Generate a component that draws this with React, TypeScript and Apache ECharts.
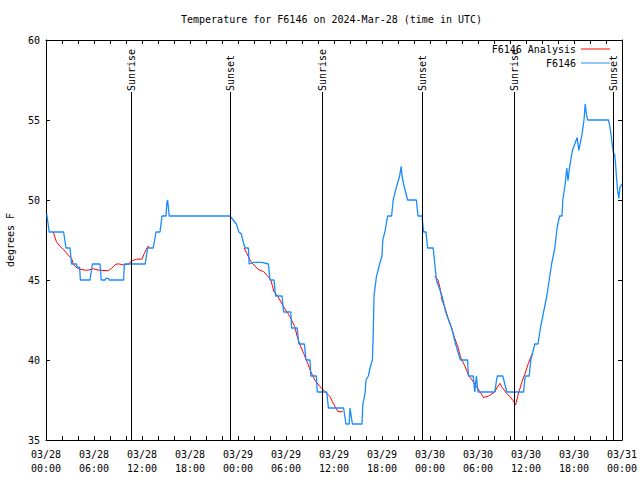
import React, { useEffect, useRef } from "react";
import * as echarts from "echarts";

const titleText = "Temperature for F6146 on 2024-Mar-28 (time in UTC)";
const yAxisTitle = "degrees F";
const obsName = "F6146";
const anaName = "F6146 Analysis";

// hours since 03/28 00:00 UTC
const obsHours = [
  0.1, 0.4, 2.2, 2.5, 3.0, 3.2, 3.8, 3.9, 4.2, 4.3, 5.5, 5.8, 6.75, 6.9, 7.4, 7.5, 7.8, 7.9, 9.7, 9.8,
  12.4, 12.7, 13.4, 13.75, 14.25, 14.5, 15.0, 15.1, 15.2, 15.4, 23.0, 23.8, 24.1, 24.4, 24.75, 24.9,
  25.3, 25.4, 26.0, 27.0, 27.8, 28.0, 28.5, 28.7, 29.5, 29.7, 30.6, 30.7, 31.4, 31.6, 32.3, 32.5,
  33.0, 33.1, 33.8, 33.9, 35.1, 35.3, 37.2, 37.5, 37.9, 38.0, 38.3, 39.5, 39.6, 39.9, 40.0, 40.3,
  40.5, 40.8, 40.9, 41.0, 41.3, 41.7, 42.0, 42.1, 42.4, 42.7, 43.2, 43.4, 43.8, 44.2, 44.4, 44.5,
  44.7, 45.2, 46.3, 46.5, 47.0, 47.2, 47.5, 47.7, 48.4, 48.6, 48.8, 49.5, 49.96, 50.7, 51.2, 51.8,
  52.7, 52.8, 53.4, 53.6, 53.8, 54.0, 56.1, 56.4, 57.1, 57.6, 59.7, 59.9, 60.4, 60.6, 61.1, 61.5,
  61.8, 62.2, 62.6, 62.9, 63.2, 63.6, 63.9, 64.2, 64.5, 64.6, 64.9, 65.1, 65.25, 65.4, 65.8, 66.1,
  66.4, 66.6, 67.0, 67.25, 67.4, 67.55, 67.7, 70.3, 70.4, 70.6, 70.9, 71.1, 71.2, 71.3, 71.45, 71.6,
  71.75, 72.0,
];
const obsTemps = [
  49.1, 48, 48, 47, 47, 46, 46, 45.8, 45.8, 45, 45, 46, 46, 45, 45, 45.1, 45.1, 45, 45, 46,
  46, 47, 47, 48, 48, 49, 49, 49.8, 50, 49, 49, 48.5, 48, 47.9, 47.2, 47,
  47, 46, 46.1, 46.1, 46, 45, 45, 44, 44, 43, 43, 42, 42, 41, 41, 40,
  40, 39, 39, 38, 38, 37, 37, 36, 36, 37, 36, 36, 37.2, 38, 38.75, 39,
  39.5, 40, 41.5, 44, 45.2, 46, 46.5, 47.5, 48.1, 49, 49, 50, 50.8, 51.5, 52.1, 51.5,
  51, 50, 50, 49, 49, 48, 48, 47, 47, 46, 45, 44, 43, 42, 41, 40,
  40, 39, 39, 38, 39, 38, 38, 39, 39, 38, 38, 39, 39, 40, 41, 41,
  42, 43, 44, 45, 46, 47, 48.3, 49, 49, 50, 51, 52, 51.2, 51.9, 53.1, 53.5,
  53.9, 53.1, 54.1, 55, 56, 55.4, 55, 55, 54.8, 54.2, 53, 52.8, 52.2, 51.5, 50.6, 50.1,
  50.8, 51,
];

// analysis: null marks a gap between runs
const anaHours = [
  0.9, 1.3, 1.75, 2.2, 2.8, 3.2, 3.4, 3.75, 4.25, 5.1, 5.9, 6.75, 7.8, 8.2, 8.75, 9.2, 9.7, 10.3,
  10.7, 11.3, 12.0, 12.3, 12.7, 12.9, 18.0,
  24.75, 25.1, 25.5, 25.8, 26.5, 27.2, 27.8, 28.1, 28.5, 29.0, 29.7, 30.1, 30.5, 31.1, 31.4, 31.75,
  32.2, 32.7, 33.1, 33.6, 34.25, 34.9, 35.5, 35.9, 36.5, 37.1, 42.0,
  48.6, 49.0, 49.3, 49.5, 49.9, 50.2, 50.7, 51.1, 51.5, 51.8, 52.4, 52.8, 53.4, 53.8, 54.25, 54.7,
  55.3, 56.1, 56.4, 56.75, 57.0, 57.6, 58.0, 58.4, 58.7, 59.0, 59.5, 59.9, 60.3, 60.8,
];
const anaTemps = [
  48.0, 47.4, 47.1, 46.9, 46.55, 46.35, 46.0, 45.8, 45.67, 45.6, 45.7, 45.6, 45.58, 45.73, 46.0, 46.0, 45.94, 46.0,
  46.19, 46.3, 46.3, 46.67, 47.08, 47.1, null,
  47.0, 46.67, 46.25, 46.04, 45.67, 45.52, 45.2, 45.0, 44.27, 43.96, 43.33, 43.02, 42.7, 42.08, 41.46, 40.94,
  40.42, 39.8, 39.27, 38.75, 38.33, 38.02, 37.7, 37.3, 36.77, 36.77, null,
  45.25, 45.0, 44.4, 43.75, 43.23, 42.7, 42.0, 41.35, 40.8, 40.2, 39.58, 39.06, 38.65, 38.33, 38.02, 37.65,
  37.75, 38.0, 38.3, 38.54, 38.3, 37.9, 37.7, 37.46, 37.19, 37.8, 38.65, 39.17, 39.8, 40.42,
];

const sunEventHours = [10.63, 23.05, 34.55, 47.04, 58.54, 70.92];
const sunEventNames = ["Sunrise", "Sunset", "Sunrise", "Sunset", "Sunrise", "Sunset"];
const sunLineTop = 56.75;

const xTickDates = ["03/28", "03/28", "03/28", "03/28", "03/29", "03/29", "03/29", "03/29", "03/30", "03/30", "03/30", "03/30", "03/31"];
const xTickTimes = ["00:00", "06:00", "12:00", "18:00", "00:00", "06:00", "12:00", "18:00", "00:00", "06:00", "12:00", "18:00", "00:00"];

const FONT = "'DejaVu Sans Mono', 'Liberation Mono', monospace";

export default function App() {
  const ref = useRef<HTMLDivElement>(null);
  useEffect(() => {
    if (!ref.current) return;
    const chart = echarts.init(ref.current, null, { renderer: "svg" });
    const tickCommon = { show: true, inside: true, length: 4, lineStyle: { color: "#000", width: 1 } };
    const lineCommon = { show: true, onZero: false, lineStyle: { color: "#000", width: 1 } };
    const txt = { fontFamily: FONT, fontSize: 10, color: "#000" };
    const obsData = obsHours.map((h, i) => [h, obsTemps[i]]);
    const anaData = anaHours.map((h, i) => [h, anaTemps[i] === null ? "-" : anaTemps[i]]);
    const option: any = {
      animation: false,
      backgroundColor: "#fff",
      title: {
        text: titleText,
        left: 181,
        top: 13,
        padding: 0,
        textStyle: { ...txt, fontWeight: "normal", lineHeight: 12 },
      },
      legend: [
        {
          data: [anaName], right: 30, top: 44, padding: 0, orient: "vertical", align: "right",
          icon: "rect", itemWidth: 29, itemHeight: 1, selectedMode: false, textStyle: { ...txt },
        },
        {
          data: [obsName], right: 30, top: 58, padding: 0, orient: "vertical", align: "right",
          icon: "rect", itemWidth: 29, itemHeight: 1, selectedMode: false, textStyle: { ...txt },
        },
      ],
      grid: { left: 46, top: 40, width: 576, height: 400, show: false, outerBoundsMode: "none", containLabel: false },
      xAxis: [
        {
          type: "value", min: 0, max: 72, interval: 6, position: "bottom",
          axisLine: lineCommon, axisTick: tickCommon,
          minorTick: { show: true, splitNumber: 3, length: 4, lineStyle: { color: "#000", width: 1 } },
          splitLine: { show: false },
          axisLabel: {
            ...txt, margin: 7, lineHeight: 14,
            formatter: (v: number) => {
              const i = Math.round(v / 6);
              return xTickDates[i] + "\n" + xTickTimes[i];
            },
          },
        },
        {
          type: "value", min: 0, max: 72, interval: 6, position: "top",
          axisLine: lineCommon, axisTick: tickCommon,
          minorTick: { show: true, splitNumber: 3, length: 4, lineStyle: { color: "#000", width: 1 } },
          splitLine: { show: false }, axisLabel: { show: false },
        },
      ],
      yAxis: [
        {
          type: "value", min: 35, max: 60, interval: 5, position: "left",
          axisLine: lineCommon, axisTick: tickCommon, splitLine: { show: false },
          axisLabel: { ...txt, margin: 6 },
          name: yAxisTitle, nameLocation: "middle", nameRotate: 90, nameGap: 31,
          nameTextStyle: { ...txt },
        },
        {
          type: "value", min: 35, max: 60, interval: 5, position: "right",
          axisLine: lineCommon, axisTick: tickCommon, splitLine: { show: false },
          axisLabel: { show: false },
        },
      ],
      series: [
        {
          name: anaName, type: "line", data: anaData, showSymbol: false, symbol: "none",
          connectNulls: false, color: "#ff0000", lineStyle: { color: "#ff0000", width: 1 },
          emphasis: { disabled: true }, silent: true, z: 2,
          markLine: {
            silent: true, symbol: ["none", "none"], animation: false,
            label: { show: false },
            lineStyle: { color: "#000", width: 1, type: "solid" },
            emphasis: { disabled: true },
            data: sunEventHours.map((h) => [{ coord: [h, 35] }, { coord: [h, sunLineTop] }]),
          },
        },
        {
          name: obsName, type: "line", data: obsData, showSymbol: false, symbol: "none",
          color: "#1a8cff", lineStyle: { color: "#1a8cff", width: 1.3 },
          emphasis: { disabled: true }, silent: true, z: 3,
        },
      ],
    };
    chart.setOption(option);
    const graphics = sunEventHours.map((h, i) => {
      const px = chart.convertToPixel({ xAxisIndex: 0 }, h) as number;
      const py = chart.convertToPixel({ yAxisIndex: 0 }, sunLineTop) as number;
      return {
        type: "text",
        x: px,
        y: py - 1,
        rotation: Math.PI / 2,
        silent: true,
        style: {
          text: sunEventNames[i],
          font: `10px ${FONT}`,
          fill: "#000",
          align: "left",
          verticalAlign: "middle",
        },
      };
    });
    chart.setOption({ graphic: graphics });
    return () => chart.dispose();
  }, []);
  return (
    <div
      ref={ref}
      style={{ position: "fixed", left: 0, top: 0, width: 640, height: 480, background: "#fff" }}
    />
  );
}
